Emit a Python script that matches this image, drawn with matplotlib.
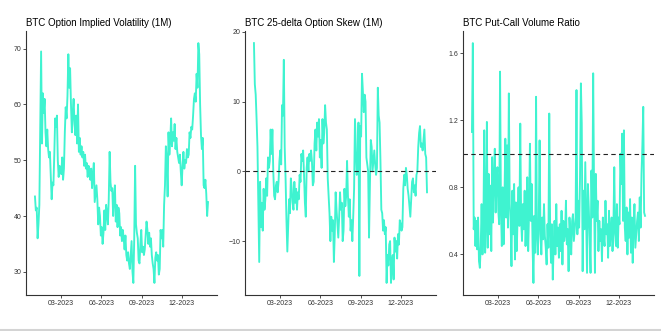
import matplotlib
matplotlib.use("Agg")
import matplotlib.pyplot as plt
import matplotlib.dates as mdates
from matplotlib.lines import Line2D
import pandas as pd

# two-day observations, Jan 2023 - Jan 2024
dates = pd.date_range("2023-01-01", periods=198, freq="2D")

implied_vol = [
    43.5, 41.0, 41.5, 36.0, 38.5, 42.0, 55.0, 69.5, 53.0, 62.0,
    58.5, 61.0, 55.0, 52.5, 55.5, 52.0, 50.5, 51.5, 47.5, 43.0,
    46.0, 45.5, 51.0, 57.5, 56.0, 58.0, 50.0, 47.0, 49.0, 48.0,
    47.5, 50.5, 46.5, 48.5, 55.0, 59.5, 57.5, 61.5, 69.0, 63.0,
    66.5, 60.0, 55.0, 58.5, 61.0, 56.5, 54.5, 58.0, 53.0, 60.0,
    51.5, 54.0, 51.0, 52.5, 50.5, 51.5, 49.0, 51.0, 48.5, 49.5,
    47.0, 49.0, 48.0, 46.5, 48.5, 45.0, 47.5, 49.5, 42.5, 44.0,
    45.5, 43.0, 38.5, 41.5, 40.0, 36.5, 38.0, 35.0, 37.0, 41.0,
    37.5, 42.0, 40.5, 38.5, 43.0, 51.5, 46.0, 44.5, 45.0, 40.0,
    43.5, 45.5, 39.0, 42.0, 38.0, 41.5, 40.5, 36.5, 38.0, 35.5,
    37.5, 36.0, 34.0, 36.5, 33.0, 32.0, 33.5, 31.5, 30.5, 33.0,
    35.5, 30.0, 28.0, 36.0, 49.0, 38.5, 37.0, 36.0, 32.0, 31.5,
    35.0, 37.5, 33.5, 34.5, 33.0, 34.0, 36.5, 39.0, 37.5, 35.0,
    37.0, 34.5, 36.0, 33.0, 31.5, 30.5, 28.0, 32.5, 33.5, 32.0,
    33.0, 29.5, 30.5, 37.5, 36.0, 37.5, 34.5, 42.0, 45.5, 52.5,
    50.0, 43.5, 55.0, 51.0, 53.5, 57.5, 52.5, 55.0, 53.5, 56.5,
    52.0, 54.0, 51.5, 50.5, 49.5, 51.0, 48.0, 45.5, 49.0, 51.5,
    48.5, 50.0, 49.5, 52.0, 50.5, 51.0, 55.0, 54.0, 56.0, 55.5,
    58.0, 61.0, 62.0, 60.5, 65.5, 63.0, 71.0, 69.0, 60.0, 54.5,
    52.0, 54.0, 45.5, 45.0, 46.5, 44.0, 40.0, 42.5,
]

skew_25d = [
    18.4, 12.5, 11.0, 7.5, 3.5, -5.0, -13.0, -1.5, -8.0, -4.5,
    -8.5, -2.5, -5.5, -4.0, -1.0, -3.5, 2.0, 0.5, 1.5, 6.0,
    2.5, 6.0, 0.0, -3.5, -4.0, -2.0, -1.5, -3.0, -1.5, 1.5,
    3.0, 1.0, 9.5, 8.0, 16.0, 3.5, -1.0, -7.0, -11.5, -7.5,
    -4.0, -6.0, -1.0, -2.5, -4.5, -5.5, -1.5, -4.5, -2.5, -5.5,
    -3.0, -4.0, -0.5, -1.5, 2.5, 1.5, 3.0, -0.5, -4.5, -6.5,
    0.5, 2.0, 0.0, 2.5, 1.5, 3.0, 1.5, -2.0, -1.5, 4.0,
    6.0, 3.0, 7.0, 5.0, 7.5, 2.0, 4.5, 0.5, 7.5, 4.0,
    5.5, 9.5, 7.0, 6.0, -1.0, -3.5, -6.0, -10.0, -6.5, -8.5,
    -7.0, -13.0, -9.0, -3.0, -5.5, -7.5, -9.5, -6.5, -3.0, -5.5,
    -4.5, -10.0, -8.5, -2.5, -5.0, -3.5, 1.5, -3.5, -6.5, -4.0,
    -8.5, -7.0, -10.0, -6.5, -2.5, 7.5, 3.5, -0.5, 0.5, 7.0,
    -15.0, 6.5, 5.0, 14.0, 11.5, 8.5, 11.0, 10.0, 2.0, 1.0,
    0.0, -9.5, -2.0, 4.5, 3.5, 0.0, 1.5, 3.0, 1.0, -0.5,
    0.5, 12.0, 8.0, 7.0, 1.5, -5.5, -6.0, -8.5, -7.0, -9.0,
    -8.0, -16.0, -12.0, -13.5, -10.5, -10.0, -16.0, -13.0, -12.0, -15.5,
    -9.5, -11.5, -10.0, -12.5, -9.0, -10.5, -7.0, -7.5, -8.5, -8.0,
    -2.5, -0.5, -2.0, 0.5, -0.5, -2.5, -3.5, -5.0, -6.5, -4.0,
    -1.5, -1.0, -3.0, -2.0, -3.5, -0.5, 0.0, 3.5, 5.5, 6.5,
    3.5, 4.0, 3.0, 4.5, 6.0, 2.5, 2.0, -3.0,
]

put_call = [
    1.13, 1.66, 0.55, 0.62, 0.45, 0.60, 0.43, 0.62, 0.36, 0.32,
    0.45, 0.70, 0.40, 0.56, 1.14, 0.41, 0.58, 1.19, 0.44, 0.88,
    0.52, 0.81, 0.42, 0.98, 0.59, 0.86, 1.03, 0.65, 0.84, 0.92,
    0.66, 0.58, 1.49, 0.68, 0.45, 0.80, 0.46, 0.72, 1.09, 0.62,
    1.05, 0.56, 1.36, 0.70, 0.60, 0.33, 0.78, 0.52, 0.82, 0.37,
    0.71, 0.42, 0.63, 0.80, 0.57, 1.18, 0.60, 0.48, 0.70, 0.55,
    0.78, 0.45, 0.62, 0.86, 0.42, 0.65, 1.06, 0.60, 0.82, 0.45,
    0.23, 0.63, 0.41, 1.34, 0.52, 0.40, 0.58, 1.08, 0.52, 0.40,
    0.62, 0.49, 0.70, 0.51, 0.44, 0.34, 0.58, 0.44, 1.24, 0.56,
    0.35, 0.58, 0.25, 0.45, 0.60, 0.40, 0.70, 0.45, 0.56, 0.38,
    0.58, 0.42, 0.66, 0.34, 0.60, 0.48, 0.52, 0.72, 0.46, 0.55,
    0.30, 0.62, 0.52, 0.40, 0.60, 0.64, 0.48, 0.55, 0.62, 1.38,
    0.52, 0.72, 0.56, 0.85, 1.42, 1.18, 0.30, 0.78, 0.55, 0.95,
    0.62, 0.29, 0.82, 0.68, 0.50, 0.29, 0.90, 0.62, 1.48, 0.78,
    0.29, 0.88, 0.60, 0.72, 0.42, 0.60, 0.48, 0.55, 0.36, 0.62,
    0.50, 0.45, 0.72, 0.52, 0.58, 0.38, 0.66, 0.45, 0.52, 0.62,
    0.42, 0.55, 0.92, 0.52, 0.45, 0.70, 0.44, 0.62, 0.58, 1.00,
    0.82, 1.12, 0.60, 1.14, 0.56, 0.48, 0.68, 0.40, 0.65, 0.50,
    0.73, 0.41, 0.62, 0.35, 0.58, 0.70, 0.44, 0.52, 0.60, 0.65,
    0.48, 0.74, 0.56, 0.88, 1.05, 1.28, 0.65, 0.63,
]

titles = ["BTC Option Implied Volatility (1M)",
          "BTC 25-delta Option Skew (1M)",
          "BTC Put-Call Volume Ratio"]
series = [implied_vol, skew_25d, put_call]
yticks = [[30, 40, 50, 60, 70], [-10, 0, 10, 20], [0.4, 0.8, 1.2, 1.6]]
ref_lines = [None, 0, 1.0]

plt.rcParams["font.family"] = ["Liberation Sans", "DejaVu Sans"]
line_color = "#3FF3D0"

fig = plt.figure(figsize=(6.61, 3.31), dpi=100)
lefts = [0.0398, 0.3711, 0.7009]

for left, title, vals, yt, ref in zip(lefts, titles, series, yticks, ref_lines):
    ax = fig.add_axes([left, 0.109, 0.288, 0.797])
    ax.plot(dates, vals, color=line_color, lw=1.35)
    if ref is not None:
        ax.axhline(ref, color="#222222", lw=0.8, ls=(0, (4, 3)))
    ax.set_yticks(yt)
    if title.startswith("BTC Put"):
        ax.set_yticklabels([f"{v:.1f}" for v in yt])
    ax.xaxis.set_major_locator(mdates.MonthLocator(bymonth=[3, 6, 9, 12]))
    ax.xaxis.set_major_formatter(mdates.DateFormatter("%m-%Y"))
    ax.margins(x=0.05, y=0.05)
    for side in ["top", "right"]:
        ax.spines[side].set_visible(False)
    for side in ["left", "bottom"]:
        ax.spines[side].set_color("#333333")
        ax.spines[side].set_linewidth(0.8)
    ax.tick_params(labelsize=5, colors="#333333", length=2, width=0.6, pad=1.5)
    ax.set_title(title, loc="left", fontsize=7, pad=3.5, color="black")

fig.add_artist(Line2D([0, 1], [0.004, 0.004], color="#d4d4d4", lw=1.5))
fig.savefig("out.png", dpi=100)
